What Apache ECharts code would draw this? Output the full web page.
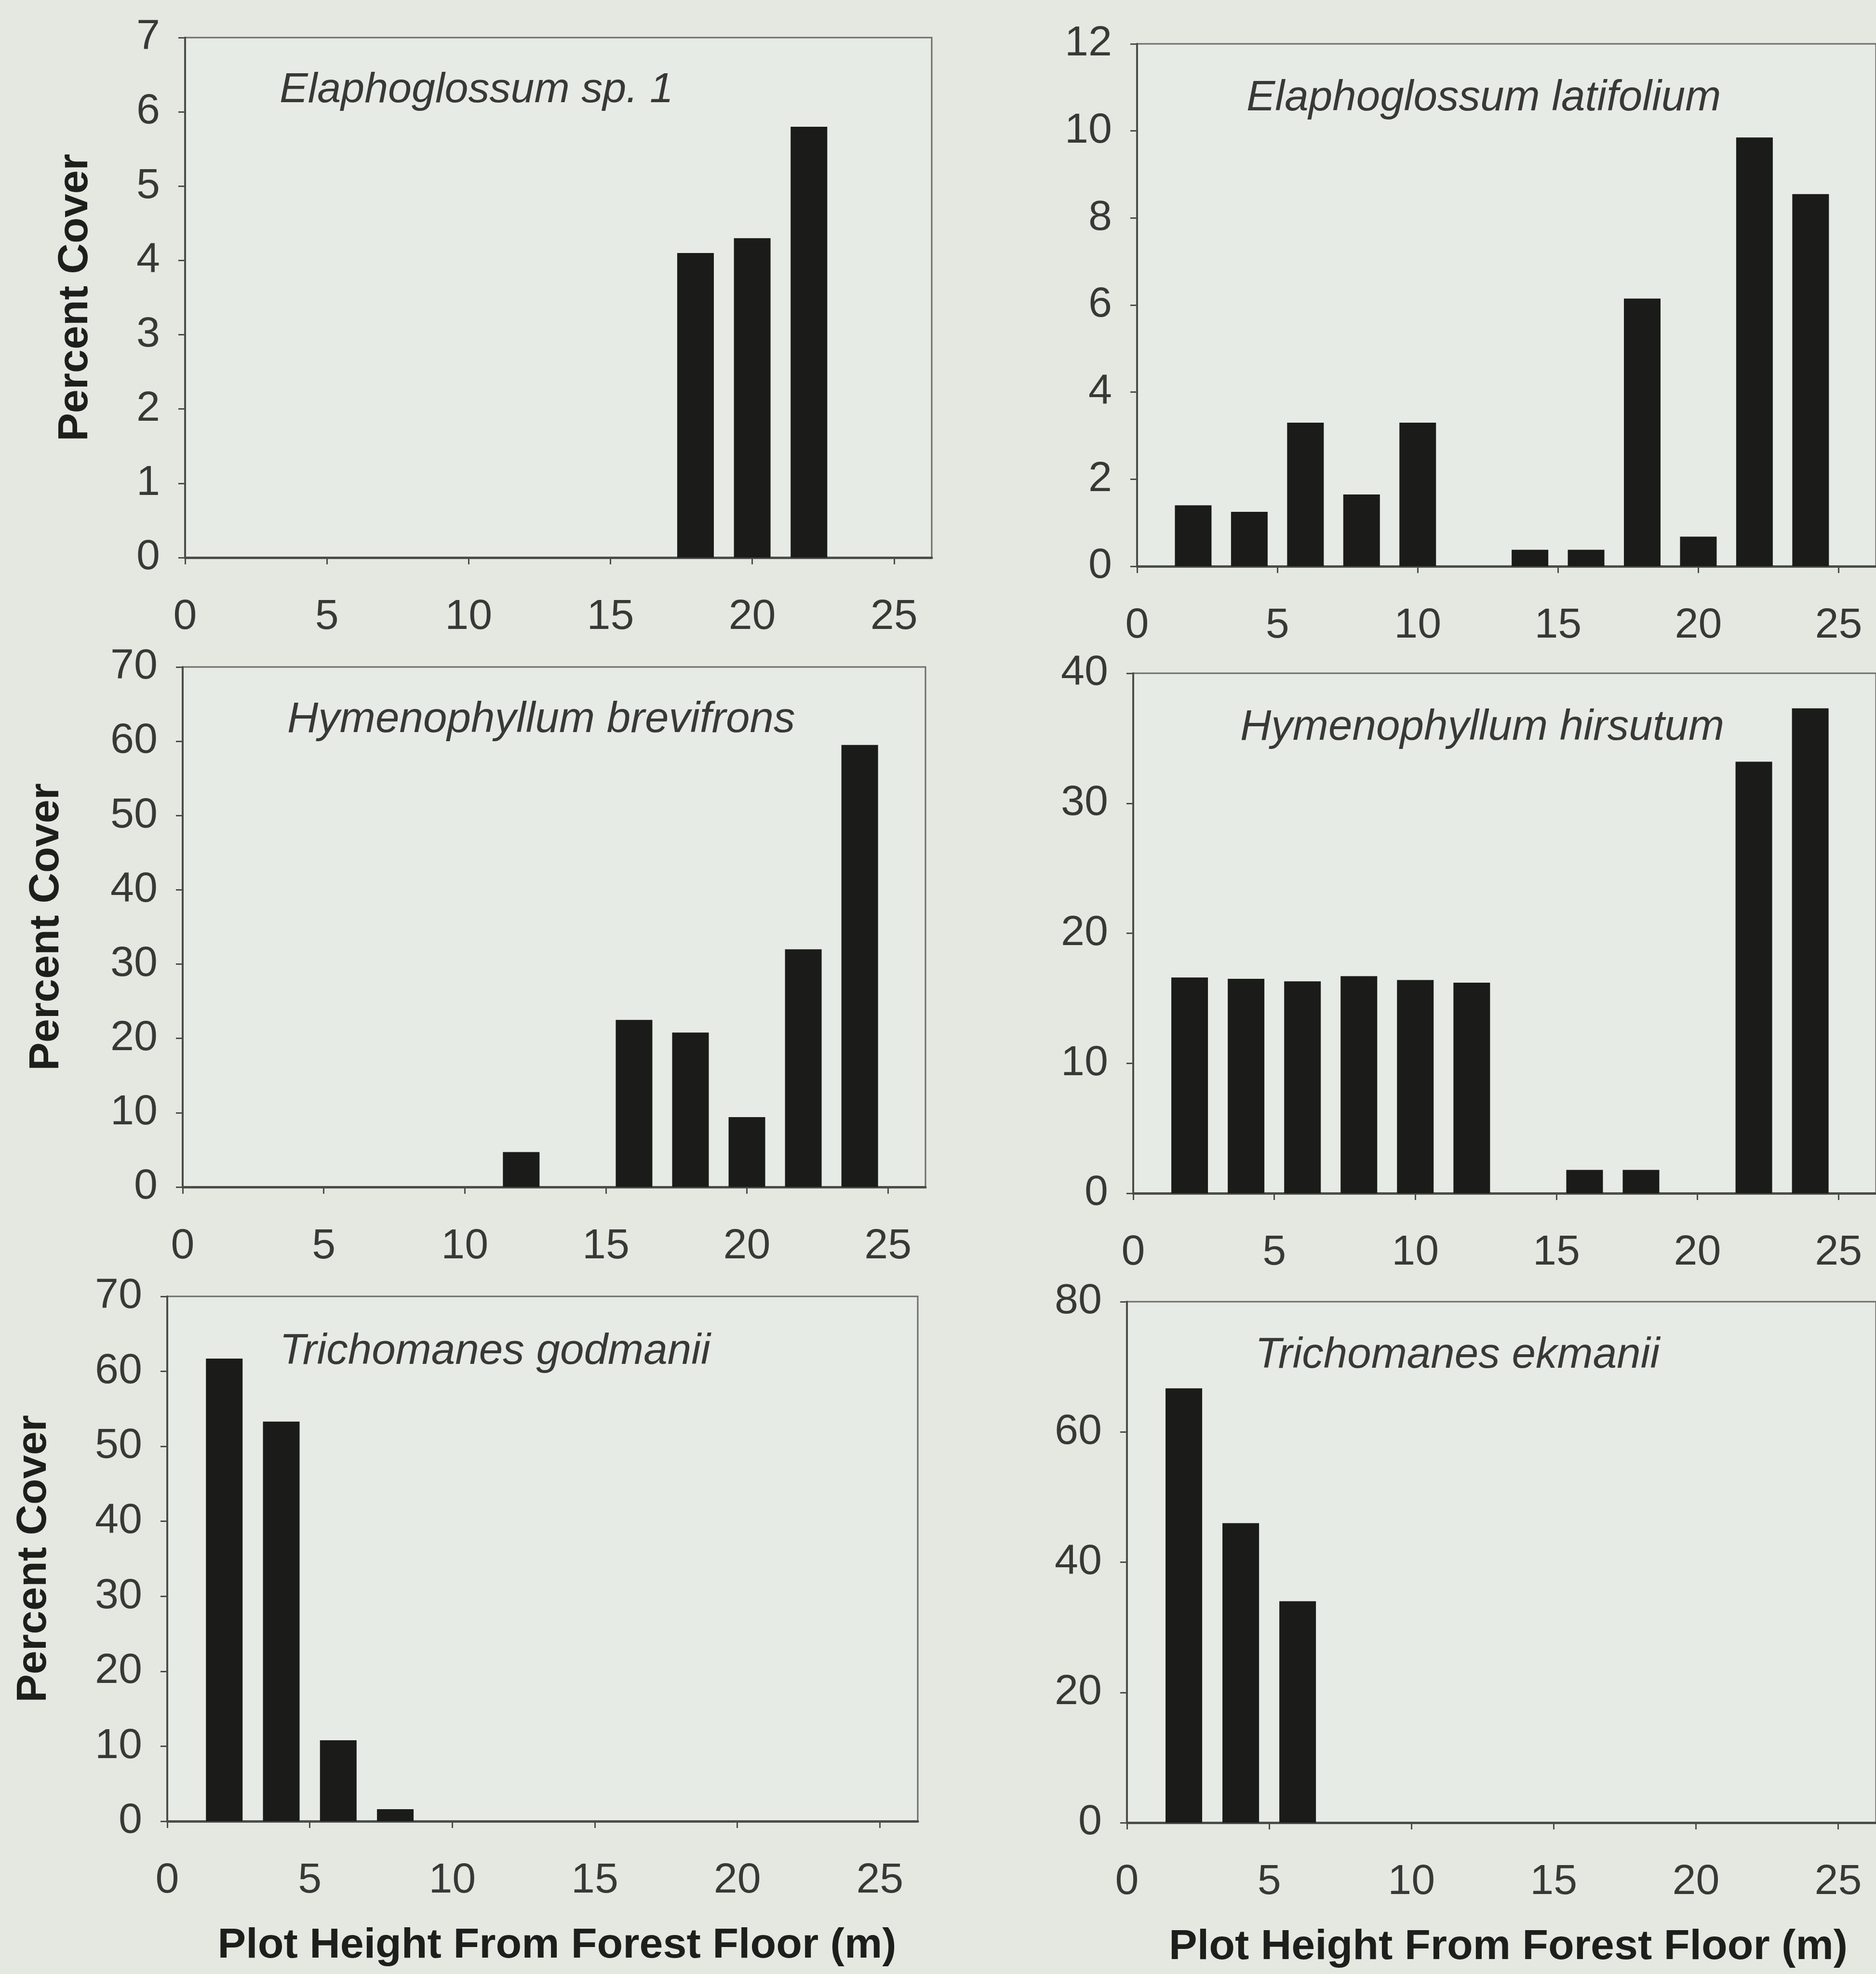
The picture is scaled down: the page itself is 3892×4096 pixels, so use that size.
<!DOCTYPE html>
<html>
<head>
<meta charset="utf-8">
<script src="https://cdn.jsdelivr.net/npm/echarts@6/dist/echarts.min.js"></script>
<style>
html, body { margin: 0; padding: 0; background: #e4e8e1; }
#chart { width: 3892px; height: 4096px; }
</style>
</head>
<body>
<div id="chart"></div>
<script>
// plot heights (m) where cover was sampled
const heights = [2, 4, 6, 8, 10, 12, 14, 16, 18, 20, 22, 24];

// percent cover for each species, one value per height
const elaphoSp1 = [0, 0, 0, 0, 0, 0, 0, 0, 4.1, 4.3, 5.8, 0];
const elaphoLatifolium = [1.4, 1.25, 3.3, 1.65, 3.3, 0, 0.38, 0.38, 6.15, 0.68, 9.85, 8.55];
const hymenoBrevifrons = [0, 0, 0, 0, 0, 4.7, 0, 22.5, 20.8, 9.4, 32, 59.5];
const hymenoHirsutum = [16.6, 16.5, 16.3, 16.7, 16.4, 16.2, 0, 1.8, 1.8, 0, 33.2, 37.3];
const trichoGodmanii = [61.7, 53.3, 10.8, 1.6, 0, 0, 0, 0, 0, 0, 0, 0];
const trichoEkmanii = [66.7, 46, 34, 0, 0, 0, 0, 0, 0, 0, 0, 0];

const speciesNames = [
  'Elaphoglossum sp. 1', 'Elaphoglossum latifolium',
  'Hymenophyllum brevifrons', 'Hymenophyllum hirsutum',
  'Trichomanes godmanii', 'Trichomanes ekmanii'
];
const speciesValues = [elaphoSp1, elaphoLatifolium, hymenoBrevifrons, hymenoHirsutum, trichoGodmanii, trichoEkmanii];

// y axis ranges and x tick labels
const yMax = [7, 12, 70, 40, 70, 80];
const yStep = [1, 2, 10, 10, 10, 20];
const xTicks = [0, 5, 10, 15, 20, 25];

const yName = 'Percent Cover';
const xName = 'Plot Height From Forest Floor (m)';

// where each panel sits on the page (px)
const panels = [
  { left: 384, top: 78, width: 1549, height: 1079, tx: 580, ty: 188, ts: 88, yGap: 183 },
  { left: 2359, top: 91, width: 1554, height: 1084, tx: 2586, ty: 204, ts: 89 },
  { left: 379, top: 1384, width: 1541, height: 1079, tx: 596, ty: 1494, ts: 89, yGap: 238 },
  { left: 2351, top: 1397, width: 1557, height: 1079, tx: 2573, ty: 1510, ts: 89 },
  { left: 347, top: 2690, width: 1557, height: 1089, tx: 580, ty: 2805, ts: 89, yGap: 232, xGap: 215, xShift: 60 },
  { left: 2338, top: 2701, width: 1554, height: 1081, tx: 2604, ty: 2813, ts: 89, xGap: 215, xShift: 28 }
];

const font = "'Liberation Sans', Arial, sans-serif";
const axisColor = '#4a4d48';
const textColor = '#383936';

const chart = echarts.init(document.getElementById('chart'));

const grids = [], xAxes = [], yAxes = [], titles = [], series = [];

panels.forEach(function (p, i) {
  grids.push({
    left: p.left, top: p.top, width: p.width, height: p.height,
    show: true, backgroundColor: '#e7ebe5', borderColor: '#6a6d68', borderWidth: 3,
    containLabel: false
  });

  titles.push({
    text: speciesNames[i],
    left: p.tx, top: p.ty - p.ts * 0.6, padding: 0,
    textStyle: { fontFamily: font, fontStyle: 'italic', fontWeight: 'normal', fontSize: p.ts, lineHeight: p.ts * 1.2, color: textColor }
  });

  xAxes.push({
    type: 'value', gridIndex: i, min: 0, max: 26.33, interval: 5,
    splitLine: { show: false },
    axisLine: { show: true, lineStyle: { color: axisColor, width: 5 } },
    axisTick: { show: true, inside: false, length: 14, customValues: xTicks, lineStyle: { color: axisColor, width: 3 } },
    axisLabel: { customValues: xTicks, margin: 80, fontFamily: font, fontSize: 88, color: textColor },
    name: p.xGap ? xName : '',
    nameLocation: 'middle', nameGap: p.xGap || 0,
    nameTextStyle: { fontFamily: font, fontWeight: 'bold', fontSize: 88, color: '#1e1f1c', padding: [0, 0, 0, p.xShift || 0] }
  });

  yAxes.push({
    type: 'value', gridIndex: i, min: 0, max: yMax[i], interval: yStep[i],
    splitLine: { show: false },
    axisLine: { show: true, lineStyle: { color: axisColor, width: 4 } },
    axisTick: { show: true, inside: false, length: 14, lineStyle: { color: axisColor, width: 3 } },
    axisLabel: { margin: 52, fontFamily: font, fontSize: 88, color: textColor },
    name: p.yGap ? yName : '',
    nameLocation: 'middle', nameGap: p.yGap || 0,
    nameTextStyle: { fontFamily: font, fontWeight: 'bold', fontSize: 88, color: '#1e1f1c' }
  });

  series.push({
    type: 'bar', xAxisIndex: i, yAxisIndex: i,
    barWidth: 76,
    itemStyle: { color: '#1b1c19' },
    data: heights.map(function (h, k) { return [h, speciesValues[i][k]]; })
  });
});

chart.setOption({
  backgroundColor: '#e4e8e1',
  animation: false,
  title: titles,
  grid: grids,
  xAxis: xAxes,
  yAxis: yAxes,
  series: series
});
</script>
</body>
</html>
